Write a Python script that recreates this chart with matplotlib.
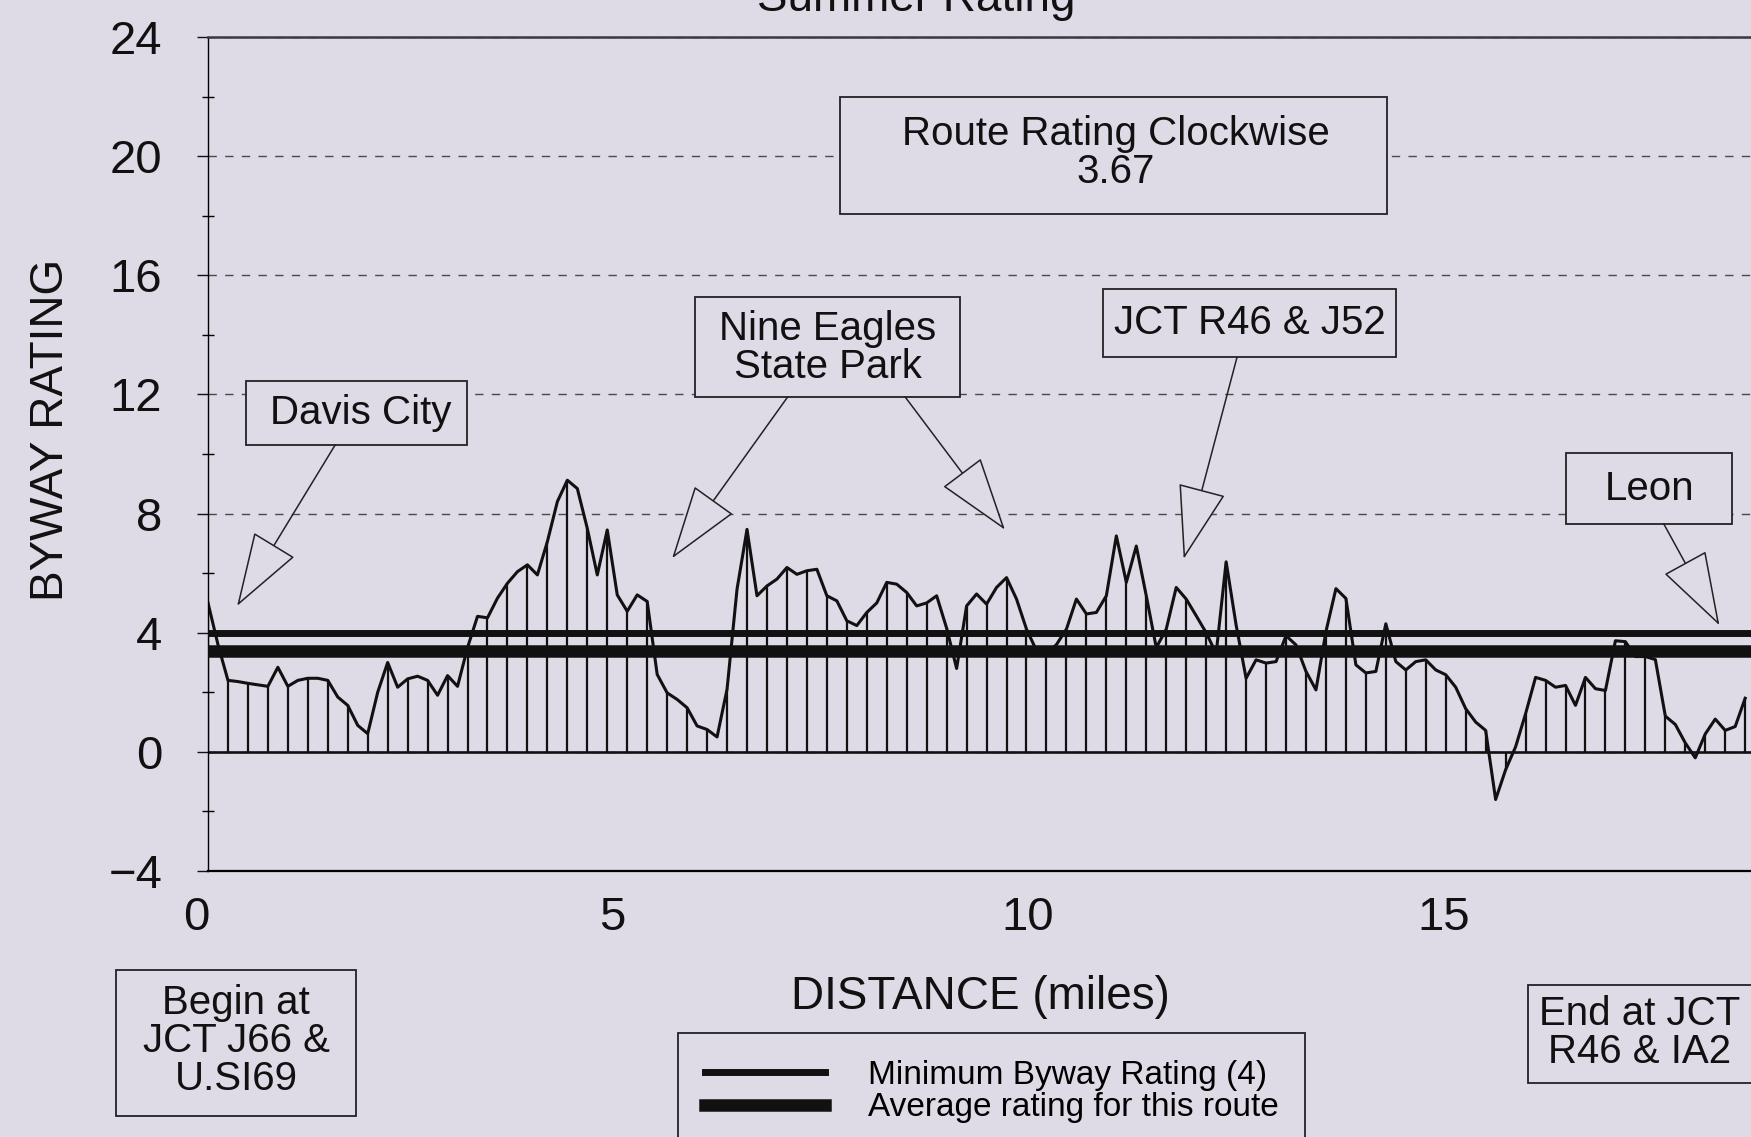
import numpy as np
import matplotlib
matplotlib.use('Agg')
import matplotlib.pyplot as plt
import matplotlib.transforms as mtransforms
from matplotlib.patches import Rectangle

plt.rcParams['font.family'] = ['Liberation Sans', 'DejaVu Sans']

#------------------------------------------------------------------
# Data
#------------------------------------------------------------------
step_miles = 0.12          # spacing between readings
rating = [
    5.0, 3.6, 2.4, 2.36, 2.3, 2.25, 2.2, 2.84, 2.2, 2.4,
    2.47, 2.47, 2.4, 1.84, 1.56, 0.89, 0.61, 2.0, 3.0, 2.17,
    2.45, 2.54, 2.4, 1.9, 2.56, 2.2, 3.5, 4.55, 4.5, 5.16,
    5.66, 6.05, 6.28, 5.94, 7.06, 8.4, 9.12, 8.84, 7.5, 5.94,
    7.45, 5.27, 4.72, 5.27, 5.05, 2.6, 1.98, 1.76, 1.48, 0.87,
    0.75, 0.5, 2.1, 5.46, 7.47, 5.24, 5.57, 5.8, 6.19, 5.96,
    6.08, 6.13, 5.24, 5.07, 4.4, 4.24, 4.68, 5.0, 5.69, 5.63,
    5.35, 4.9, 5.0, 5.24, 4.15, 2.8, 4.9, 5.3, 4.96, 5.52,
    5.85, 5.13, 4.12, 3.4, 3.3, 3.6, 4.12, 5.13, 4.63, 4.68,
    5.24, 7.25, 5.69, 6.91, 5.24, 3.5, 4.12, 5.52, 5.13, 4.57,
    4.0, 3.3, 6.38, 4.26, 2.47, 3.09, 2.98, 3.03, 3.9, 3.59,
    2.7, 2.08, 4.04, 5.48, 5.15, 2.92, 2.65, 2.7, 4.3, 3.03,
    2.75, 3.03, 3.09, 2.75, 2.59, 2.17, 1.45, 1.0, 0.72, -1.6,
    -0.6, 0.17, 1.28, 2.5, 2.4, 2.17, 2.23, 1.56, 2.5, 2.12,
    2.06, 3.73, 3.7, 3.2, 3.2, 3.1, 1.2, 0.92, 0.3, -0.2,
    0.6, 1.1, 0.72, 0.85, 1.8,
]
distance = np.arange(len(rating)) * step_miles
rating = np.array(rating)

min_rating = 4.0           # minimum byway rating
avg_rating = 3.4           # average rating line as drawn
route_rating = '3.67'

x_ticks = [0, 5, 10, 15]
y_ticks = [-4, 0, 4, 8, 12, 16, 20, 24]

bg = '#dedae6'
ink = '#111111'

#------------------------------------------------------------------
# Figure
#------------------------------------------------------------------
W, H = 1751, 1137
fig = plt.figure(figsize=(W / 100, H / 100), dpi=100)
fig.patch.set_facecolor(bg)
ax = fig.add_axes([208 / W, 1 - 871 / H, 1 - 208 / W, 834 / H])
ax.set_facecolor(bg)
ax.set_xlim(0, 18.55)
ax.set_ylim(-4, 24)

# grid + frame
ax.set_yticks(y_ticks)
ax.set_yticks(np.arange(-4, 25, 2), minor=True)
ax.grid(axis='y', which='major', ls=(0, (6, 6)), color='#4a4a4a', lw=1.0, zorder=0.5)
ax.spines['right'].set_visible(False)
ax.spines['top'].set_linewidth(1.8)
ax.spines['top'].set_color('#3a3a3a')
ax.spines['bottom'].set_linewidth(1.6)
ax.spines['left'].set_linewidth(1.0)

ax.set_xticks(x_ticks)
ax.tick_params(axis='x', length=0, pad=18, labelsize=34, colors=ink)
ax.tick_params(axis='y', which='major', direction='out', length=8, width=1.0,
               pad=25, labelsize=34, colors=ink)
ax.tick_params(axis='y', which='minor', direction='inout', length=9, width=1.0)
offset = mtransforms.ScaledTranslation(-0.12, 0, fig.dpi_scale_trans)
for lab in ax.get_xticklabels():
    lab.set_transform(lab.get_transform() + offset)

# series
ax.axhline(0, color=ink, lw=1.9, zorder=2)
ax.vlines(distance[::2], 0, rating[::2], color=ink, lw=1.6, zorder=2)
ax.plot(distance, rating, color=ink, lw=2.2, zorder=2.5)
min_line = ax.axhline(min_rating, color=ink, lw=5, zorder=3)
avg_line = ax.axhline(avg_rating, color=ink, lw=9, zorder=3)

#------------------------------------------------------------------
# Callout boxes and arrows
#------------------------------------------------------------------
def callout(x0, y0, x1, y1, text, tx, ty, size=29):
    ax.add_patch(Rectangle((x0, y0), x1 - x0, y1 - y0, fc=bg, ec='#222222',
                           lw=1.3, zorder=4))
    ax.text(tx, ty, text, ha='center', va='center', fontsize=size,
            color=ink, linespacing=1.0, zorder=5)

def arrow(start, tip):
    ax.annotate('', xy=tip, xytext=start, zorder=6,
                arrowprops=dict(arrowstyle='-|>,head_length=2.45,head_width=0.8',
                                mutation_scale=20, fc=bg, ec='#222222', lw=1.1,
                                shrinkA=0, shrinkB=0))

callout(0.457, 10.31, 3.113, 12.45, 'Davis City', 1.83, 11.38)
arrow((1.53, 10.31), (0.35, 4.9))

callout(5.853, 11.92, 9.038, 15.26, 'Nine Eagles\nState Park', 7.45, 13.55)
arrow((6.97, 11.92), (5.58, 6.5))
arrow((8.38, 11.92), (9.58, 7.46))

callout(10.757, 13.24, 14.279, 15.55, 'JCT R46 & J52', 12.52, 14.39)
arrow((12.37, 13.24), (11.73, 6.48))

callout(16.33, 7.66, 18.32, 10.03, 'Leon', 17.33, 8.84)
arrow((17.5, 7.66), (18.17, 4.25))

callout(7.596, 18.05, 14.171, 21.97,
        'Route Rating Clockwise\n' + route_rating, 10.91, 20.1)

#------------------------------------------------------------------
# Labels and boxes outside the axes
#------------------------------------------------------------------
fig.text(916 / W, 1 - 11 / H, 'Summer Rating', ha='center', va='baseline',
         fontsize=33, color=ink)
fig.text(51 / W, 1 - 430 / H, 'BYWAY RATING', ha='center', va='center',
         rotation=90, rotation_mode='anchor', fontsize=33, color=ink)
fig.text(980 / W, 1 - 997 / H, 'DISTANCE (miles)', ha='center', va='center',
         fontsize=33, color=ink)

fig.add_artist(Rectangle((116 / W, 1 - 1116 / H), 240 / W, 146 / H,
                         transform=fig.transFigure, fc=bg, ec='#222222', lw=1.3))
fig.text(236 / W, 1 - 1041 / H, 'Begin at\nJCT J66 &\nU.SI69', ha='center',
         va='center', fontsize=29, linespacing=1.0, color=ink)

fig.add_artist(Rectangle((1528 / W, 1 - 1083 / H), 240 / W, 98 / H,
                         transform=fig.transFigure, fc=bg, ec='#222222', lw=1.3))
fig.text(1640 / W, 1 - 1033 / H, 'End at JCT\nR46 & IA2', ha='center',
         va='center', fontsize=29, linespacing=1.0, color=ink)

leg = ax.legend(handles=[min_line, avg_line],
                labels=['Minimum Byway Rating (4)', 'Average rating for this route'],
                loc='upper left', bbox_to_anchor=(678 / W, 1 - 1033 / H),
                bbox_transform=fig.transFigure, fontsize=24, handlelength=3.6,
                handletextpad=1.3, borderpad=0.8, labelspacing=0.05,
                fancybox=False, edgecolor='#222222', facecolor=bg,
                framealpha=1, borderaxespad=0)
leg.get_frame().set_linewidth(1.3)

fig.savefig('out.png', dpi=100, facecolor=bg)
plt.close('all')
